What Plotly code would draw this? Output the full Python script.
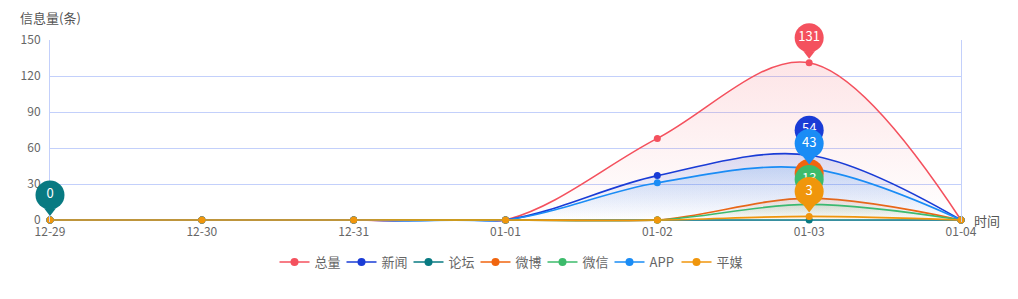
import plotly.graph_objects as go

dates = ['12-29', '12-30', '12-31', '01-01', '01-02', '01-03', '01-04']
series_names = ['总量', '新闻', '论坛', '微博', '微信', 'APP', '平媒']
total = [0, 0, 0, 0, 68, 131, 0]
news = [0, 0, 0, 0, 37, 54, 0]
forum = [0, 0, 0, 0, 0, 0, 0]
weibo = [0, 0, 0, 0, 0, 18, 0]
wechat = [0, 0, 0, 0, 0, 13, 0]
app = [0, 0, 0, 0, 31, 43, 0]
print_media = [0, 0, 0, 0, 0, 3, 0]
series_values = [total, news, forum, weibo, wechat, app, print_media]
colors = ['#f4515e', '#1a3cd6', '#087a82', '#f0650f', '#3cbb6b', '#1a8cf5', '#f0960c']
y_ticks = [0, 30, 60, 90, 120, 150]

W, H = 1018, 299
ML, MR, MT, MB = 50, 57, 40, 79
PW, PH = W - ML - MR, H - MT - MB
YMAX = 150
NX = len(dates) - 1
YS = PH / YMAX   # px per y unit
XS = PW / NX     # px per x unit
PADB = 1.5       # extra px below zero so the zero lines are not half clipped

FONT = 'Noto Sans CJK SC, Noto Sans, sans-serif'
GRID = '#c3d0fb'


def rgba(hexc, a):
    h = hexc.lstrip('#')
    r, g, b = int(h[0:2], 16), int(h[2:4], 16), int(h[4:6], 16)
    return f'rgba({r},{g},{b},{a})'


xs = list(range(len(dates)))
fig = go.Figure()

# area + lines (main subplot)
for name, vals, c in zip(series_names, series_values, colors):
    top = max(max(vals), 1)
    fig.add_trace(go.Scatter(
        x=xs, y=vals, mode='lines+markers', name=name, showlegend=False,
        line=dict(color=c, width=1.6, shape='spline', smoothing=1.0),
        marker=dict(color=c, size=7), cliponaxis=False,
        fill='tozeroy',
        fillgradient=dict(type='vertical', start=0, stop=top,
                          colorscale=[[0, rgba(c, 0.0)], [1, rgba(c, 0.15)]]),
        hoverinfo='skip', xaxis='x', yaxis='y'))

# max pins on an overlay subplot that spans the whole figure (same scale)
for name, vals, c in zip(series_names, series_values, colors):
    m = max(vals)
    i = vals.index(m)
    fig.add_trace(go.Scatter(
        x=[i], y=[m + 9 / YS], mode='markers', showlegend=False,
        marker=dict(symbol='triangle-down', size=10, color=c, line=dict(width=0)),
        hoverinfo='skip', xaxis='x2', yaxis='y2'))
    fig.add_trace(go.Scatter(
        x=[i], y=[m + 25 / YS], mode='markers+text', showlegend=False,
        marker=dict(symbol='circle', size=29, color=c, line=dict(width=0)),
        text=[str(m)], textposition='middle center',
        textfont=dict(color='white', size=13, family=FONT),
        hoverinfo='skip', xaxis='x2', yaxis='y2'))

# legend entries
for name, c in zip(series_names, colors):
    fig.add_trace(go.Scatter(
        x=[None], y=[None], mode='lines+markers', name=name,
        line=dict(color=c, width=1.5), marker=dict(color=c, size=8),
        xaxis='x', yaxis='y'))

fig.update_layout(
    width=W, height=H,
    margin=dict(l=0, r=0, t=0, b=0, pad=0, autoexpand=False),
    paper_bgcolor='white', plot_bgcolor='rgba(0,0,0,0)',
    font=dict(family=FONT, color='#666666', size=12),
    showlegend=True,
    legend=dict(orientation='h', x=0.5, xanchor='center', y=1 - 262 / H, yanchor='middle',
                font=dict(size=13, color='#666666'), itemwidth=30,
                entrywidth=22, entrywidthmode='pixels',
                bgcolor='rgba(0,0,0,0)'),
    xaxis=dict(domain=[ML / W, 1 - MR / W], anchor='y', automargin=False,
               range=[0, NX], tickvals=xs, ticktext=dates,
               showgrid=False, zeroline=False, showline=False,
               ticks='', ticklabelstandoff=1,
               tickfont=dict(size=12, color='#666666'), fixedrange=True),
    yaxis=dict(domain=[(MB - PADB) / H, 1 - MT / H], anchor='x', automargin=False,
               range=[-PADB / YS, YMAX], tickvals=y_ticks, showgrid=True, gridcolor=GRID,
               zeroline=False, showline=True, linecolor=GRID, mirror=True,
               ticks='', ticklabelstandoff=6,
               tickfont=dict(size=12, color='#666666'), fixedrange=True),
    xaxis2=dict(domain=[0, 1], anchor='y2', range=[-ML / XS, NX + MR / XS],
                visible=False, fixedrange=True, automargin=False),
    yaxis2=dict(domain=[0, 1], anchor='x2', range=[-MB / YS, YMAX + MT / YS],
                visible=False, fixedrange=True, automargin=False),
    annotations=[
        dict(text='信息量(条)', xref='paper', yref='paper', x=ML / W, y=1 - 18 / H,
             xanchor='center', yanchor='middle', showarrow=False,
             font=dict(size=13, color='#555555', family=FONT)),
        dict(text='时间', xref='paper', yref='paper', x=1 - MR / W, y=MB / H,
             xanchor='left', yanchor='middle', xshift=11, showarrow=False,
             font=dict(size=13, color='#555555', family=FONT)),
    ],
)

fig.write_html('out.html')
